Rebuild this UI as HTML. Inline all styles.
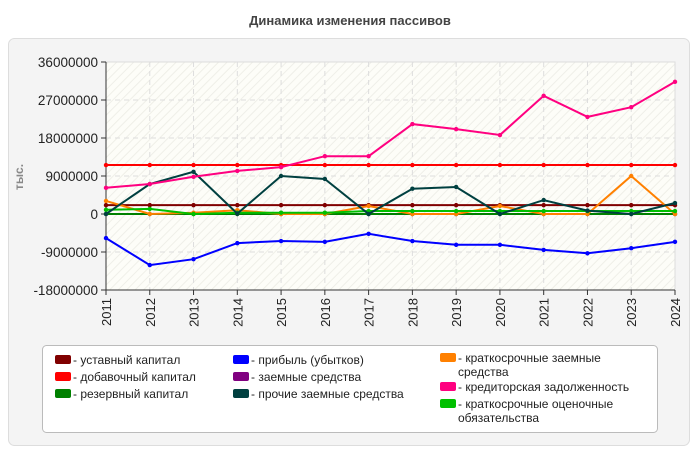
<!DOCTYPE html>
<html><head><meta charset="utf-8"><style>
body{margin:0;background:#fff;font-family:"Liberation Sans",sans-serif;}
svg{display:block}
</style></head><body>
<svg width="700" height="450" xmlns="http://www.w3.org/2000/svg" id="chart">
<defs>
<pattern id="hatch" width="6" height="6" patternUnits="userSpaceOnUse" patternTransform="rotate(45)">
<rect width="6" height="6" fill="#fdfdf8"/><line x1="0" y1="0" x2="0" y2="6" stroke="#efefe8" stroke-width="2"/>
</pattern>
</defs>
<text x="350" y="25" text-anchor="middle" font-size="13" font-weight="bold" fill="#444">Динамика изменения пассивов</text>
<rect x="8.5" y="38.5" width="681" height="407" rx="6" fill="#f4f4f4" stroke="#ddd"/>
<rect x="106" y="62" width="569" height="228" fill="url(#hatch)" stroke="#ddd"/>
<g id="grid"></g>
<g id="axes"></g>
<g id="series"></g>
<text transform="translate(23,177) rotate(-90)" text-anchor="middle" font-size="12" font-weight="bold" fill="#888">тыс.</text>
<rect x="42.5" y="345.5" width="615" height="87" rx="4" fill="#fff" stroke="#bbb"/>
<g id="legend"></g>
</svg>
<script>
const years=[2011,2012,2013,2014,2015,2016,2017,2018,2019,2020,2021,2022,2023,2024];
const yTicks=[36000000,27000000,18000000,9000000,0,-9000000,-18000000];
const seriesNames=["уставный капитал","добавочный капитал","резервный капитал","прибыль (убытков)","заемные средства","прочие заемные средства","краткосрочные заемные средства","кредиторская задолженность","краткосрочные оценочные обязательства"];
const seriesColors=["#800000","#ff0000","#008000","#0000ff","#800080","#004040","#ff8000","#ff0080","#00c000"];
const ustav=[2100000,2100000,2100000,2100000,2100000,2100000,2100000,2100000,2100000,2100000,2100000,2100000,2100000,2100000];
const dobav=[11600000,11600000,11600000,11600000,11600000,11600000,11600000,11600000,11600000,11600000,11600000,11600000,11600000,11600000];
const reserv=[0,0,0,0,0,0,0,0,0,0,0,0,0,0];
const pribyl=[-5700000,-12100000,-10700000,-6900000,-6400000,-6600000,-4700000,-6400000,-7300000,-7300000,-8500000,-9300000,-8100000,-6600000];
const zaem=[0,0,0,0,0,0,0,0,0,0,0,0,0,0];
const prochie=[0,7100000,10000000,100000,9000000,8300000,0,6000000,6400000,0,3300000,800000,0,2600000];
const kratkZaem=[3100000,0,300000,900000,0,0,1900000,0,0,1900000,0,0,9000000,0];
const kredit=[6200000,7100000,8800000,10200000,11100000,13700000,13700000,21300000,20100000,18700000,28000000,23000000,25300000,31300000];
const ocenoch=[1000000,1200000,0,300000,300000,300000,700000,700000,700000,700000,700000,700000,700000,700000];
const allSeries=[ustav,dobav,reserv,pribyl,zaem,prochie,kratkZaem,kredit,ocenoch];
const NS="http://www.w3.org/2000/svg";
const X0=106,X1=675,Y0=62,Y1=290,YMAX=36000000,YMIN=-18000000;
const xs=i=>X0+(X1-X0)*i/(years.length-1);
const ys=v=>Y0+(YMAX-v)/(YMAX-YMIN)*(Y1-Y0);
function mk(tag,attrs,parent){const e=document.createElementNS(NS,tag);for(const k in attrs)e.setAttribute(k,attrs[k]);parent.appendChild(e);return e;}
const grid=document.getElementById('grid'),axes=document.getElementById('axes'),ser=document.getElementById('series'),leg=document.getElementById('legend');
yTicks.forEach(t=>{const y=ys(t);
 const l=mk('line',{x1:X0,x2:X1,y1:y,y2:y,stroke:'#ddd','stroke-dasharray':'5,4'},grid);
 
 
 mk('line',{x1:X0-5,x2:X0,y1:y,y2:y,stroke:'#333'},axes);
 const tx=mk('text',{x:X0-8,y:y+5,'text-anchor':'end','font-size':'13.5',fill:'#222'},axes);tx.textContent=t;
 
 
});
years.forEach((yr,i)=>{const x=xs(i);
 if(i>0&&i<years.length-1){const g=mk('line',{x1:x,x2:x,y1:Y0,y2:Y1,stroke:'#ddd','stroke-dasharray':'5,4'},grid);
 
 }
 mk('line',{x1:x,x2:x,y1:Y1,y2:Y1+5,stroke:'#333'},axes);
 const tx=mk('text',{transform:`translate(${x+5},${Y1+8}) rotate(-90)`,'text-anchor':'end','font-size':'13',fill:'#222'},axes);tx.textContent=yr;
 
 
});
mk('line',{x1:X0,x2:X0,y1:Y0,y2:Y1,stroke:'#333'},axes);
mk('line',{x1:X0,x2:X1,y1:Y1,y2:Y1,stroke:'#333'},axes);
const order=[4,2,0,1,6,8,5,7,3];
order.forEach(s=>{const d=allSeries[s];
 const pts=d.map((v,i)=>xs(i).toFixed(1)+','+ys(v).toFixed(1)).join(' ');
 const p=mk('polyline',{points:pts,fill:'none',stroke:seriesColors[s],'stroke-width':'2'},ser);
 
 
 d.forEach((v,i)=>{const c=mk('circle',{cx:xs(i),cy:ys(v),r:2.2,fill:seriesColors[s]},ser);
 
 });
});
const legPos=[[55,360],[55,377],[55,394],[233,360],[233,377],[233,394],[440,358],[440,387],[440,404]];
seriesNames.forEach((n,s)=>{const [x,y]=legPos[s];
 const g=mk('g',{},leg);
 
 
 mk('rect',{x:x,y:y-5,width:16,height:9,rx:2,fill:seriesColors[s]},g);
 const t=mk('text',{x:x+18,y:y+4,'font-size':'12',fill:'#222'},g);
 if(s===6){t.textContent='- краткосрочные заемные';const t2=mk('text',{x:x+18,y:y+18,'font-size':'12',fill:'#222'},g);t2.textContent='средства';}
 else if(s===8){t.textContent='- краткосрочные оценочные';const t2=mk('text',{x:x+18,y:y+18,'font-size':'12',fill:'#222'},g);t2.textContent='обязательства';}
 else t.textContent='- '+n;
});
</script>
</body></html>
